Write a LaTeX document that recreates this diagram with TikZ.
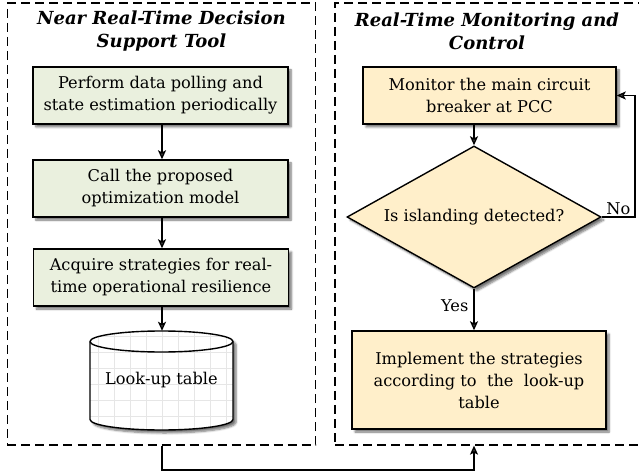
\documentclass[tikz,border=0pt]{standalone}
\usepackage{fontspec}
\setmainfont{DejaVu Serif}
\usetikzlibrary{arrows.meta,shapes.geometric,shadows.blur}
\definecolor{greenfill}{RGB}{234,240,222}
\definecolor{yellowfill}{RGB}{255,239,202}
\definecolor{gridcol}{RGB}{230,230,230}
\tikzset{
  panel/.style={draw, dash pattern=on 9bp off 5bp, line width=1.3bp, minimum height=442bp, inner sep=0pt},
  shad/.style={blur shadow={shadow xshift=3bp, shadow yshift=-3bp, shadow blur steps=6, shadow opacity=55}},
  boxtext/.style={font={\fontsize{16.2bp}{22bp}\selectfont}, align=center},
  gbox/.style={draw, line width=1.4bp, fill=greenfill, minimum width=255bp, minimum height=57bp, inner sep=0pt, boxtext, shad},
  ybox/.style={draw, line width=1.4bp, fill=yellowfill, minimum width=254bp, inner sep=0pt, boxtext, shad},
  decis/.style={diamond, draw, line width=1.4bp, fill=yellowfill, aspect=1.79, minimum width=254bp, minimum height=142bp, inner sep=0pt, boxtext, shad},
  titletext/.style={font={\fontsize{18bp}{23bp}\selectfont\bfseries\itshape}, align=center},
  arr/.style={-{Stealth[length=9bp,width=8bp,inset=2bp]}, line width=1.3bp},
  lbl/.style={font={\fontsize{16.2bp}{18bp}\selectfont}},
}
\begin{document}
\begin{tikzpicture}[x=1bp,y=-1bp]
\useasboundingbox (0,0) rectangle (639,474);
% panels
\node[panel, minimum width=308bp] (lp) at (161.5,224) {};
\node[panel, minimum width=306bp] (rp) at (488,224) {};
% titles
\node[titletext] (t1) at (161.5,31) {Near Real-Time Decision\\Support Tool};
\node[titletext] (t2) at (487,31) {Real-Time Monitoring and\\Control};
% left column
\node[gbox] (b1) at (160.5,95.5) {Perform data polling and\\state estimation periodically};
\node[gbox] (b2) at (160.5,188.5) {Call the proposed\\optimization model};
\node[gbox] (b3) at (161,277.5) {Acquire strategies for real-\\time operational resilience};
% cylinder (look-up table)
\path[shad, fill=white] (90,341.5) -- (90,419.5)
  .. controls (90,425.3) and (122,430) .. (161.5,430)
  .. controls (201,430) and (233,425.3) .. (233,419.5)
  -- (233,341.5)
  .. controls (233,335.7) and (201,331) .. (161.5,331)
  .. controls (122,331) and (90,335.7) .. (90,341.5) -- cycle;
\begin{scope}
\clip (90,341.5) -- (90,419.5)
  .. controls (90,425.3) and (122,430) .. (161.5,430)
  .. controls (201,430) and (233,425.3) .. (233,419.5)
  -- (233,341.5)
  .. controls (233,335.7) and (201,331) .. (161.5,331)
  .. controls (122,331) and (90,335.7) .. (90,341.5) -- cycle;
\foreach \gx in {98,114,...,234} \draw[gridcol, line width=0.8bp] (\gx,330) -- (\gx,431);
\foreach \gy in {336,352,...,432} \draw[gridcol, line width=0.8bp] (89,\gy) -- (234,\gy);
\end{scope}
\draw[line width=1.4bp] (90,341.5) -- (90,419.5)
  .. controls (90,425.3) and (122,430) .. (161.5,430)
  .. controls (201,430) and (233,425.3) .. (233,419.5)
  -- (233,341.5)
  .. controls (233,335.7) and (201,331) .. (161.5,331)
  .. controls (122,331) and (90,335.7) .. (90,341.5) -- cycle;
\draw[line width=1.4bp] (90,341.5)
  .. controls (90,347.3) and (122,352) .. (161.5,352)
  .. controls (201,352) and (233,347.3) .. (233,341.5);
\node[boxtext, minimum width=143bp, minimum height=99bp, inner sep=0pt] (lut) at (161.5,380.5) {\raisebox{-1.5bp}{Look-up table}};
% right column
\node[ybox, minimum height=57bp, minimum width=253bp] (mon) at (489.5,95.5) {Monitor the main circuit\\breaker at PCC};
\node[decis] (dia) at (474,217) {Is islanding detected?};
\node[ybox, minimum height=98bp] (b4) at (479,380) {Implement the strategies\\according to\ \ the\ \ look-up\\table};
% connectors
\draw[arr] (b1.south -| 162,0) -- (b2.north -| 162,0);
\draw[arr] (b2.south -| 162,0) -- (b3.north -| 162,0);
\draw[arr] (b3.south -| 162,0) -- (lut.north -| 162,0);
\draw[arr] (dia.north |- mon.south) -- (dia.north);
\draw[arr] (dia.south) -- node[lbl, left, pos=0.4, inner sep=5bp] {Yes} (dia.south |- b4.north);
\coordinate (fbk) at (635,217);
\draw[arr] (dia.east) -- node[lbl, above, inner sep=2bp] {No} (fbk) |- (mon.east);
\coordinate (busy) at (474,470);
\draw[arr] (lp.south -| 162,0) |- (busy) -- (rp.south -| busy);
\end{tikzpicture}
\end{document}
